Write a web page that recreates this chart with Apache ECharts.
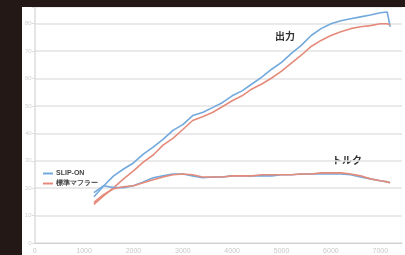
<!DOCTYPE html>
<html lang="ja">
<head>
<meta charset="utf-8">
<title>出力・トルク</title>
<script src="https://cdn.jsdelivr.net/npm/echarts@6/dist/echarts.min.js"></script>
<style>
  html, body { margin: 0; padding: 0; }
  body { width: 405px; height: 255px; background: #231815; position: relative; overflow: hidden; }
  #main { position: absolute; left: 22px; top: 7px; width: 383px; height: 248px; background: #fff; }
</style>
</head>
<body>
<div id="main"></div>
<script type="text/javascript">
  // 回転数 (rpm)
  var rpm = [1200, 1400, 1600, 1800, 2000, 2200, 2400, 2600, 2800, 3000,
             3200, 3400, 3600, 3800, 4000, 4200, 4400, 4600, 4800, 5000,
             5200, 5400, 5600, 5800, 6000, 6200, 6400, 6600, 6800, 7000,
             7140, 7200];
  // 出力
  var powerSlip = [16.9, 20.9, 24.5, 27.0, 29.2, 32.4, 35.0, 37.8, 41.1, 43.2,
                   46.5, 47.6, 49.4, 51.2, 53.7, 55.5, 58.0, 60.5, 63.4, 65.9,
                   69.2, 72.1, 75.7, 78.2, 80.0, 81.1, 81.8, 82.5, 83.2, 84.0,
                   84.3, 78.9];
  var powerStd = [14.1, 17.3, 20.2, 23.4, 26.3, 29.5, 32.1, 35.7, 38.2, 41.4,
                  44.7, 46.1, 47.6, 49.7, 51.9, 53.7, 56.2, 58.0, 60.2, 62.7,
                  65.6, 68.5, 71.7, 73.9, 75.7, 77.1, 78.2, 78.9, 79.3, 80.0,
                  80.0, 79.6];
  // トルク
  var torqueSlip = [18.4, 20.9, 20.2, 20.2, 20.9, 22.3, 23.8, 24.5, 25.2, 25.2,
                    24.5, 23.8, 24.1, 24.1, 24.5, 24.5, 24.5, 24.5, 24.5, 24.9,
                    24.9, 25.2, 25.2, 25.2, 25.2, 25.2, 24.9, 24.1, 23.4, 22.7,
                    22.3, 22.0];
  var torqueStd = [14.8, 17.7, 19.8, 20.5, 20.9, 22.0, 23.1, 24.1, 24.9, 25.2,
                   24.9, 24.1, 24.1, 24.1, 24.5, 24.5, 24.5, 24.9, 24.9, 24.9,
                   24.9, 25.2, 25.2, 25.6, 25.6, 25.6, 25.2, 24.5, 23.4, 22.7,
                   22.3, 22.0];

  var names = ['SLIP-ON', '標準マフラー'];
  var colors = ['#72a9dd', '#e58b7b'];

  function pairs(ys) {
    return rpm.map(function (x, i) { return [x, ys[i]]; });
  }

  var myChart = echarts.init(document.getElementById('main'));

  var lineStyle = function (c) { return { color: c, width: 1.6 }; };

  var option = {
    animation: false,
    color: colors,
    grid: { left: 11, right: 0, top: 0, bottom: 9 },
    legend: {
      data: names,
      orient: 'vertical',
      left: 16,
      top: 158,
      itemWidth: 10,
      itemHeight: 2,
      itemGap: 3,
      icon: 'rect',
      textStyle: { fontSize: 7, color: '#444', fontWeight: 'bold', padding: [0, 0, 0, -2] }
    },
    xAxis: {
      type: 'value',
      min: 0,
      max: 7440,
      interval: 1000,
      axisLine: { show: true, lineStyle: { color: '#d0d0d0', width: 1 } },
      axisTick: { show: false },
      splitLine: { show: false },
      axisLabel: {
        fontSize: 7, color: '#c8c8c8', margin: 5,
        formatter: function (v) { return v % 1000 === 0 ? v : ''; }
      }
    },
    yAxis: {
      type: 'value',
      min: 0,
      max: 86.1,
      interval: 10,
      axisLine: { show: true, lineStyle: { color: '#dcdcdc', width: 1.5 } },
      axisTick: { show: true, length: 3, lineStyle: { color: '#dcdcdc' } },
      splitLine: { lineStyle: { color: '#e3e3e3', width: 1.5 } },
      axisLabel: {
        fontSize: 6, color: '#d0d0d0', margin: 3,
        formatter: function (v) { return v % 10 === 0 ? v : ''; }
      }
    },
    graphic: [
      { type: 'text', left: 253, top: 24, style: { text: '出力', fontSize: 10, fontWeight: 'bold', fill: '#333', fontFamily: 'Noto Sans CJK JP' } },
      { type: 'text', left: 310, top: 148, style: { text: 'トルク', fontSize: 10, fontWeight: 'bold', fill: '#333', fontFamily: 'Noto Sans CJK JP' } }
    ],
    series: [
      { name: names[0], type: 'line', showSymbol: false, data: pairs(powerSlip), lineStyle: lineStyle(colors[0]) },
      { name: names[1], type: 'line', showSymbol: false, data: pairs(powerStd), lineStyle: lineStyle(colors[1]) },
      { name: names[0], type: 'line', showSymbol: false, data: pairs(torqueSlip), lineStyle: lineStyle(colors[0]) },
      { name: names[1], type: 'line', showSymbol: false, data: pairs(torqueStd), lineStyle: lineStyle(colors[1]) }
    ]
  };
  myChart.setOption(option);
</script>
</body>
</html>
